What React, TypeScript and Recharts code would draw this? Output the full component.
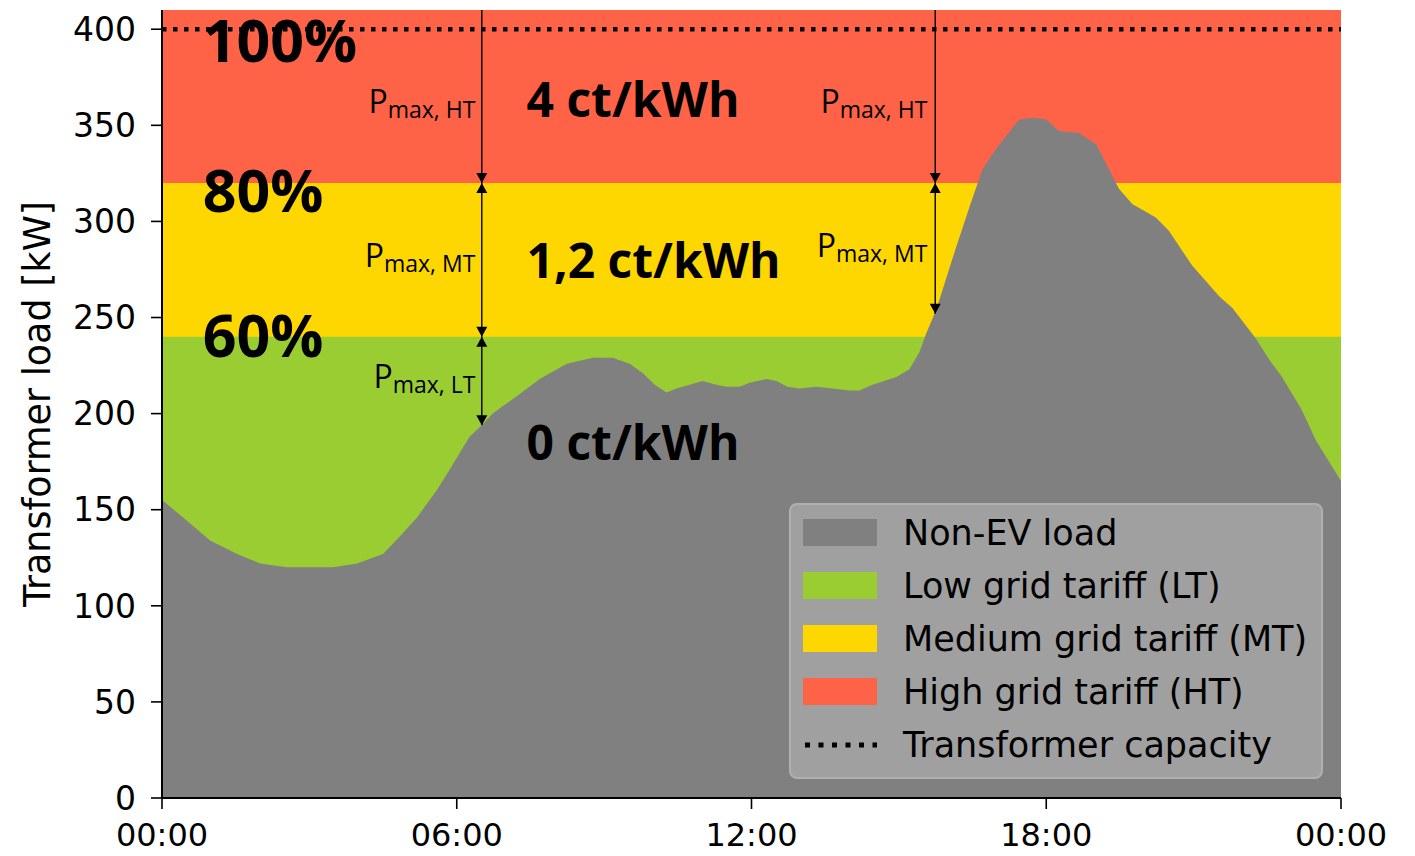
import React from 'react';
import {
  ComposedChart,
  Area,
  Line,
  XAxis,
  YAxis,
  ReferenceLine,
  ReferenceDot,
  Legend,
} from 'recharts';

// ---- data ----
const HOURS = [
  0, 0.43, 0.98, 1.53, 2.0, 2.54, 3.0, 3.48, 3.97, 4.5, 4.84, 5.19, 5.59, 5.86,
  6.26, 6.51, 6.73, 7.22, 7.69, 8.24, 8.77, 9.17, 9.52, 9.79, 10.03, 10.27,
  10.47, 10.74, 11.0, 11.29, 11.49, 11.76, 11.96, 12.3, 12.51, 12.73, 12.98,
  13.32, 13.65, 13.99, 14.2, 14.46, 14.95, 15.21, 15.42, 15.56, 15.76, 16.17,
  16.43, 16.7, 16.98, 17.45, 17.72, 18.0, 18.26, 18.67, 19.02, 19.22, 19.48,
  19.75, 20.23, 20.5, 20.97, 21.52, 21.79, 22.27, 22.54, 22.8, 23.2, 23.49, 24.0,
];
const LOAD = [
  155, 146, 134, 127, 122, 120, 120, 120, 122, 127, 136, 146, 160, 171,
  188, 194, 200, 209, 218, 226, 229, 229, 226, 221, 215, 211,
  213, 215, 217, 215, 214, 214, 216, 218, 217, 214, 213,
  214, 213, 212, 212, 215, 219, 223, 232, 242, 254, 287,
  307, 327, 338, 353, 354, 353, 347, 346, 340, 330, 317,
  309, 302, 295, 277, 261, 255, 239, 228, 219, 202, 186, 165,
];

const X_TICKS = [0, 6, 12, 18, 24];
const X_TICK_LABELS = ['00:00', '06:00', '12:00', '18:00', '00:00'];
const Y_TICKS = [0, 50, 100, 150, 200, 250, 300, 350, 400];

const LT_LIMIT = 240;
const MT_LIMIT = 320;
const Y_MAX = 410;
const CAPACITY = 400;

const PERCENT_LABELS = [
  { text: '100%', t: 0.83, v: 383 },
  { text: '80%', t: 0.83, v: 305 },
  { text: '60%', t: 0.83, v: 229.4 },
];
const TARIFF_LABELS = [
  { text: '4 ct/kWh', t: 7.42, v: 354.2 },
  { text: '1,2 ct/kWh', t: 7.42, v: 270.5 },
  { text: '0 ct/kWh', t: 7.42, v: 175.8 },
];
const PMAX_LABELS = [
  { sub: 'max, HT', t: 6.38, v: 356.3 },
  { sub: 'max, MT', t: 6.38, v: 276.2 },
  { sub: 'max, LT', t: 6.38, v: 213.3 },
  { sub: 'max, HT', t: 15.58, v: 356.3 },
  { sub: 'max, MT', t: 15.58, v: 281.4 },
];
const ARROWS = [
  { t: 6.51, from: 410, to: 320, both: false },
  { t: 6.51, from: 320, to: 240, both: true },
  { t: 6.51, from: 240, to: 194, both: true },
  { t: 15.74, from: 410, to: 320, both: false },
  { t: 15.74, from: 320, to: 252, both: true },
];

const LEGEND_ITEMS = [
  { label: 'Non-EV load', color: '#808080', kind: 'rect' },
  { label: 'Low grid tariff (LT)', color: '#9ACD32', kind: 'rect' },
  { label: 'Medium grid tariff (MT)', color: '#FFD700', kind: 'rect' },
  { label: 'High grid tariff (HT)', color: '#FF6347', kind: 'rect' },
  { label: 'Transformer capacity', color: '#000000', kind: 'dots' },
];

const data = HOURS.map((t, i) => ({
  t,
  load: LOAD[i],
  lt: LT_LIMIT,
  mt: MT_LIMIT,
  ht: Y_MAX,
  cap: CAPACITY,
}));

const MPL_FONT = 'DejaVu Sans, sans-serif';
const ANN_FONT = '"Open Sans", "Noto Sans", sans-serif';

function ArrowShape(props: any) {
  const { x1, y1, x2, y2, both } = props;
  const hl = 10;
  const hw = 5.5;
  const top = Math.min(y1, y2);
  const bot = Math.max(y1, y2);
  return (
    <g>
      <line x1={x1} y1={top} x2={x2} y2={bot} stroke="#000" strokeWidth={1.4} />
      <polygon
        points={`${x1 - hw},${bot - hl} ${x1 + hw},${bot - hl} ${x1},${bot}`}
        fill="#000"
      />
      {both ? (
        <polygon
          points={`${x1 - hw},${top + hl} ${x1 + hw},${top + hl} ${x1},${top}`}
          fill="#000"
        />
      ) : null}
    </g>
  );
}

function LegendContent() {
  return (
    <div
      style={{
        position: 'relative',
        width: 534,
        height: 276,
        boxSizing: 'border-box',
        background: '#a0a0a0',
        border: '2px solid #b0b0b0',
        borderRadius: 8,
        fontFamily: MPL_FONT,
        fontSize: 35,
        color: '#000',
      }}
    >
      {LEGEND_ITEMS.map((it, i) => {
        const cy = 30 + i * 53;
        return (
          <div key={it.label}>
            {it.kind === 'rect' ? (
              <div
                style={{
                  position: 'absolute',
                  left: 12,
                  top: cy - 14 - 2,
                  width: 74,
                  height: 27,
                  background: it.color,
                }}
              />
            ) : (
              <svg
                style={{ position: 'absolute', left: 12, top: cy - 10 - 2 }}
                width={74}
                height={20}
              >
                <line
                  x1={2}
                  y1={10}
                  x2={74}
                  y2={10}
                  stroke="#000"
                  strokeWidth={5}
                  strokeDasharray="5 8.5"
                />
              </svg>
            )}
            <div
              style={{
                position: 'absolute',
                left: 112,
                top: cy - 22 - 2,
                height: 44,
                lineHeight: '44px',
                whiteSpace: 'nowrap',
              }}
            >
              {it.label}
            </div>
          </div>
        );
      })}
    </div>
  );
}

export default function App() {
  return (
    <div style={{ position: 'absolute', left: 0, top: 0, width: 1415, height: 856, background: '#fff' }}>
      <ComposedChart
        width={1415}
        height={856}
        data={data}
        margin={{ top: 10, right: 74, bottom: 0, left: 0 }}
      >
        <XAxis
          dataKey="t"
          type="number"
          domain={[0, 24]}
          ticks={X_TICKS}
          tickFormatter={(v: number) => X_TICK_LABELS[X_TICKS.indexOf(v)]}
          height={58}
          tickSize={11}
          tickMargin={14}
          axisLine={{ stroke: '#000', strokeWidth: 2 }}
          tickLine={{ stroke: '#000', strokeWidth: 1.6 }}
          tick={{ fill: '#000', fontSize: 32, fontFamily: MPL_FONT }}
          allowDataOverflow
        />
        <XAxis
          xAxisId="top"
          orientation="top"
          dataKey="t"
          type="number"
          domain={[0, 24]}
          height={0}
          tick={false}
          tickLine={false}
          axisLine={{ stroke: '#000', strokeWidth: 2 }}
        />
        <YAxis
          type="number"
          domain={[0, Y_MAX]}
          ticks={Y_TICKS}
          width={162}
          tickSize={11}
          tickMargin={15}
          axisLine={{ stroke: '#000', strokeWidth: 2 }}
          tickLine={{ stroke: '#000', strokeWidth: 1.6 }}
          tick={{ fill: '#000', fontSize: 33, fontFamily: MPL_FONT }}
          allowDataOverflow
          label={{
            value: 'Transformer load [kW]',
            content: (p: any) => {
              const vb = p.viewBox || { x: 0, y: 10, width: 162, height: 788 };
              const x = vb.x + 50;
              const y = vb.y + vb.height / 2;
              return (
                <text
                  x={x}
                  y={y}
                  textAnchor="middle"
                  transform={`rotate(-90 ${x} ${y})`}
                  fontFamily={MPL_FONT}
                  fontSize={36.5}
                  fill="#000"
                >
                  Transformer load [kW]
                </text>
              );
            },
          }}
        />
        <YAxis
          yAxisId="right"
          orientation="right"
          type="number"
          domain={[0, Y_MAX]}
          width={0}
          tick={false}
          tickLine={false}
          axisLine={{ stroke: '#000', strokeWidth: 2 }}
        />
        <Area
          dataKey="ht"
          type="linear"
          fill="#FF6347"
          fillOpacity={1}
          stroke="none"
          isAnimationActive={false}
          dot={false}
          activeDot={false}
          legendType="none"
        />
        <Area
          dataKey="mt"
          type="linear"
          fill="#FFD700"
          fillOpacity={1}
          stroke="none"
          isAnimationActive={false}
          dot={false}
          activeDot={false}
          legendType="none"
        />
        <Area
          dataKey="lt"
          type="linear"
          fill="#9ACD32"
          fillOpacity={1}
          stroke="none"
          isAnimationActive={false}
          dot={false}
          activeDot={false}
          legendType="none"
        />
        <Area
          dataKey="load"
          type="linear"
          fill="#808080"
          fillOpacity={1}
          stroke="none"
          isAnimationActive={false}
          dot={false}
          activeDot={false}
        />
        <Line
          dataKey="cap"
          type="linear"
          stroke="#000"
          strokeWidth={4.5}
          strokeDasharray="4.5 6.5"
          dot={false}
          activeDot={false}
          isAnimationActive={false}
        />
        {ARROWS.map((a, i) => (
          <ReferenceLine
            key={'arrow' + i}
            segment={[
              { x: a.t, y: a.from },
              { x: a.t, y: a.to },
            ]}
            ifOverflow="visible"
            shape={(p: any) => <ArrowShape {...p} both={a.both} />}
          />
        ))}
        {PMAX_LABELS.map((l, i) => (
          <ReferenceDot
            key={'pmax' + i}
            x={l.t}
            y={l.v}
            r={0}
            ifOverflow="visible"
            shape={(p: any) => (
              <text x={p.cx} y={p.cy} textAnchor="end" fontFamily={ANN_FONT} fill="#000">
                <tspan fontSize={32}>P</tspan>
                <tspan fontSize={23} dy={5}>
                  {l.sub}
                </tspan>
              </text>
            )}
          />
        ))}
        {PERCENT_LABELS.map((l, i) => (
          <ReferenceDot
            key={'pct' + i}
            x={l.t}
            y={l.v}
            r={0}
            ifOverflow="visible"
            shape={(p: any) => (
              <text
                x={p.cx}
                y={p.cy}
                textAnchor="start"
                fontFamily={ANN_FONT}
                fontWeight="bold"
                fontSize={59}
                fill="#000"
              >
                {l.text}
              </text>
            )}
          />
        ))}
        {TARIFF_LABELS.map((l, i) => (
          <ReferenceDot
            key={'tar' + i}
            x={l.t}
            y={l.v}
            r={0}
            ifOverflow="visible"
            shape={(p: any) => (
              <text
                x={p.cx}
                y={p.cy}
                textAnchor="start"
                fontFamily={ANN_FONT}
                fontWeight="bold"
                fontSize={48}
                fill="#000"
              >
                {l.text}
              </text>
            )}
          />
        ))}
        <Legend
          layout="vertical"
          align="center"
          verticalAlign="middle"
          content={() => <LegendContent />}
          wrapperStyle={{ left: 789, top: 503, width: 534, height: 276, right: 'auto', bottom: 'auto' }}
        />
      </ComposedChart>
    </div>
  );
}
